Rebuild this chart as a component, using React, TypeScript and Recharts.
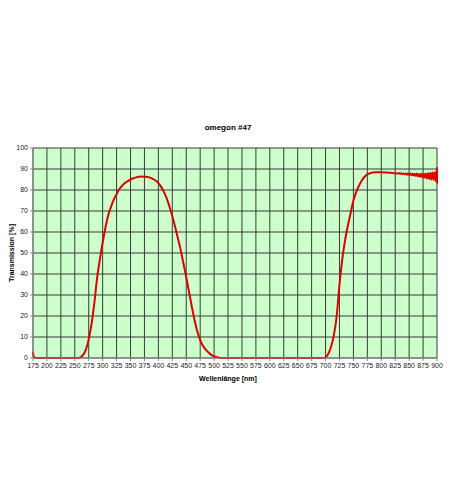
import { LineChart, Line, XAxis, YAxis, CartesianGrid } from "recharts";

const X_TICKS = [175, 200, 225, 250, 275, 300, 325, 350, 375, 400, 425, 450, 475, 500, 525, 550, 575, 600, 625, 650, 675, 700, 725, 750, 775, 800, 825, 850, 875, 900];
const Y_TICKS = [0, 10, 20, 30, 40, 50, 60, 70, 80, 90, 100];

// Wellenlänge [nm]
const WAVELENGTH = [
  175, 176, 178, 180, 200, 250, 255, 260, 265, 270, 275, 280, 285, 290, 295, 300,
  305, 310, 315, 320, 325, 330, 335, 340, 345, 350, 355, 360, 365, 370, 375, 380,
  385, 390, 395, 400, 405, 410, 415, 420, 425, 430, 435, 440, 445, 450, 455, 460,
  465, 470, 475, 480, 485, 490, 495, 500, 505, 510, 515, 600, 695, 700, 705, 710,
  715, 720, 725, 730, 735, 740, 745, 750, 755, 760, 765, 770, 775, 780, 790, 800,
  810, 820, 830, 832, 834, 836, 838, 840, 842, 844, 846, 848, 850, 852, 854, 856,
  858, 860, 862, 864, 866, 868, 870, 872, 874, 876, 878, 880, 882, 884, 886, 888,
  890, 892, 894, 896, 898, 899, 900, 900,
];

// Transmission [%]
const TRANSMISSION = [
  3, 1, 0.3, 0, 0, 0, 0, 0.3, 1.5, 4, 9, 16, 26, 38, 47, 55,
  62, 68, 72, 75.5, 78, 80.5, 82, 83.3, 84.2, 85, 85.6, 86, 86.3, 86.4, 86.3, 86.2,
  85.9, 85.3, 84.5, 83.3, 81.5, 79, 76, 72, 67.5, 62.5, 57, 51.5, 45, 38.5, 31.5, 24.5,
  18, 12.5, 8.5, 5.8, 4, 2.6, 1.5, 0.8, 0.4, 0.1, 0, 0, 0, 0.3, 2, 5.5,
  11, 20, 35, 47, 56, 63, 69, 75, 79, 82, 84.5, 86.3, 87.4, 88, 88.4, 88.5,
  88.3, 88.1, 87.9, 88.0, 87.7, 88.0, 87.6, 87.9, 87.5, 87.9, 87.3, 87.8, 87.2, 87.8, 87.0, 87.7,
  86.9, 87.7, 86.7, 87.8, 86.5, 87.6, 86.3, 87.7, 86.0, 87.8, 85.8, 87.9, 85.5, 88.0, 85.2, 88.2,
  85.0, 88.3, 84.8, 88.5, 84.3, 88.8, 83.5, 90.8,
];

const data = WAVELENGTH.map((w, i) => ({ w, t: TRANSMISSION[i] }));

const FONT = "'Liberation Sans', Arial, sans-serif";
const tick = { fontSize: 7, fill: "#222", fontFamily: FONT };

export default function App() {
  return (
    <div style={{ position: "absolute", left: 0, top: 0, width: 450, height: 503, background: "#fff" }}>
      <LineChart width={450} height={503} data={data} margin={{ top: 148, right: 13, bottom: 125, left: 0 }}>
        <text x={228} y={130} textAnchor="middle" fontSize={8} fontWeight="bold" fontFamily={FONT} fill="#000">
          omegon #47
        </text>
        <text x={228} y={381} textAnchor="middle" fontSize={7} fontWeight="bold" fontFamily={FONT} fill="#000">
          Wellenlänge [nm]
        </text>
        <text
          x={14}
          y={253}
          textAnchor="middle"
          fontSize={7}
          fontWeight="bold"
          fontFamily={FONT}
          fill="#000"
          transform="rotate(-90 14 253)"
        >
          Transmission [%]
        </text>
        <CartesianGrid fill="#ccffcc" stroke="#3a3a3a" strokeWidth={1} />
        <XAxis
          dataKey="w"
          type="number"
          domain={[175, 900]}
          ticks={X_TICKS}
          interval={0}
          height={20}
          tick={tick}
          tickSize={3}
          tickLine={{ stroke: "#888" }}
          axisLine={{ stroke: "#888" }}
        />
        <YAxis
          type="number"
          domain={[0, 100]}
          ticks={Y_TICKS}
          interval={0}
          width={33}
          tick={tick}
          tickSize={3}
          tickLine={{ stroke: "#888" }}
          axisLine={{ stroke: "#888" }}
        />
        <Line
          dataKey="t"
          type="monotone"
          stroke="#e00000"
          strokeWidth={2}
          dot={false}
          isAnimationActive={false}
        />
      </LineChart>
    </div>
  );
}
